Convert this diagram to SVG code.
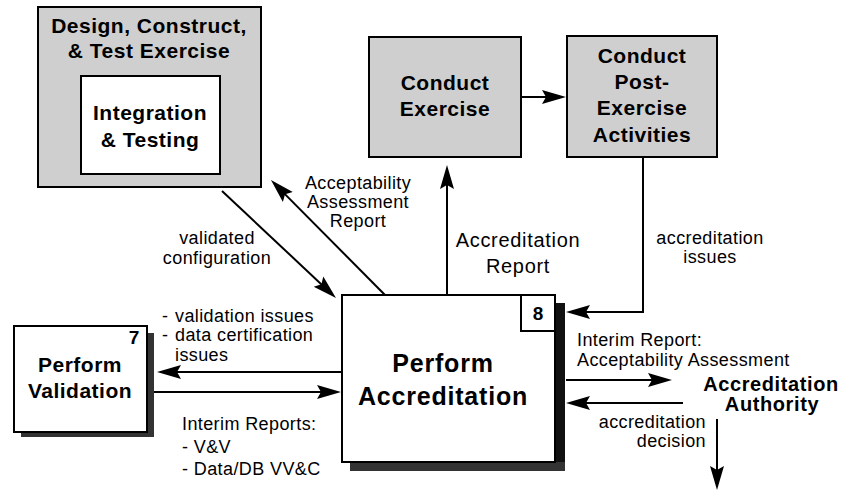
<svg xmlns="http://www.w3.org/2000/svg" width="843" height="491" viewBox="0 0 843 491">
  <style>
    .box { stroke: #000; stroke-width: 2; }
    .gray { fill: #cfcfcf; }
    .white { fill: #fff; }
    .shadow { fill: #333; stroke: none; }
    .shadow-dark { fill: #111; stroke: none; }
    .title { font-family: "Liberation Sans", Arial, sans-serif; font-weight: bold; font-size: 21px; letter-spacing: 0.5px; text-anchor: middle; fill: #000; }
    .big { font-family: "Liberation Sans", Arial, sans-serif; font-weight: bold; font-size: 25px; letter-spacing: 0.8px; text-anchor: middle; fill: #000; }
    .num { font-family: "Liberation Sans", Arial, sans-serif; font-weight: bold; font-size: 19px; text-anchor: middle; fill: #000; }
    .label { font-family: "Liberation Sans", Arial, sans-serif; font-size: 18px; letter-spacing: 0.4px; fill: #000; }
    .mid { text-anchor: middle; }
    .end { text-anchor: end; }
    .flow { fill: none; stroke: #000; stroke-width: 2; marker-end: url(#arrow); }
  </style>
  <defs>
    <marker id="arrow" markerUnits="userSpaceOnUse" markerWidth="24" markerHeight="16" refX="14" refY="8" orient="auto" viewBox="0 0 24 16">
      <path d="M0,1 L24,8 L0,15 L4,8 z" fill="#000"/>
    </marker>
  </defs>

  <!-- Design, Construct, & Test Exercise with nested Integration & Testing -->
  <g id="design-construct-test">
    <rect class="box gray" x="38" y="7" width="223" height="180"/>
    <text class="title" x="149" y="33">Design, Construct,</text>
    <text class="title" x="149" y="58">&amp; Test Exercise</text>
    <g id="integration-testing">
      <rect class="box white" x="81" y="76" width="139" height="98"/>
      <text class="title" x="150" y="120">Integration</text>
      <text class="title" x="150" y="147">&amp; Testing</text>
    </g>
  </g>

  <!-- Conduct Exercise -->
  <g id="conduct-exercise">
    <rect class="box gray" x="369" y="37" width="152" height="120"/>
    <text class="title" x="445" y="90">Conduct</text>
    <text class="title" x="445" y="116">Exercise</text>
  </g>

  <!-- Conduct Post-Exercise Activities -->
  <g id="post-exercise">
    <rect class="box gray" x="567" y="36" width="150" height="121"/>
    <text class="title" x="642" y="63">Conduct</text>
    <text class="title" x="642" y="89">Post-</text>
    <text class="title" x="642" y="115">Exercise</text>
    <text class="title" x="642" y="142">Activities</text>
  </g>

  <!-- 7: Perform Validation -->
  <g id="perform-validation">
    <rect class="shadow" x="147" y="333" width="7" height="104"/>
    <rect class="shadow" x="21" y="432" width="133" height="5"/>
    <rect class="box white" x="14" y="326" width="133" height="106"/>
    <text class="num" x="134" y="344">7</text>
    <text class="title" x="80" y="372">Perform</text>
    <text class="title" x="80" y="398">Validation</text>
  </g>

  <!-- 8: Perform Accreditation -->
  <g id="perform-accreditation">
    <rect class="shadow-dark" x="555" y="303" width="10" height="168"/>
    <rect class="shadow" x="350" y="462" width="215" height="9"/>
    <rect class="box white" x="342" y="295" width="213" height="167"/>
    <rect class="box white" x="521" y="295" width="34" height="36"/>
    <text class="num" x="538" y="320">8</text>
    <text class="big" x="443" y="372">Perform</text>
    <text class="big" x="443" y="405">Accreditation</text>
  </g>

  <!-- Accreditation Authority (external entity, no box) -->
  <g id="accreditation-authority">
    <text class="title" x="771" y="391" style="font-size:20px;letter-spacing:0.6px">Accreditation</text>
    <text class="title" x="772" y="411" style="font-size:20px;letter-spacing:0.6px">Authority</text>
  </g>

  <!-- Connectors -->
  <g id="connectors">
    <line class="flow" x1="521" y1="97" x2="556" y2="97"/>
    <line class="flow" x1="447" y1="295" x2="447" y2="175"/>
    <polyline class="flow" points="643,157 643,312 576,312"/>
    <line class="flow" x1="222" y1="191" x2="328.7" y2="291.2"/>
    <line class="flow" x1="385" y1="295" x2="278" y2="187.1"/>
    <line class="flow" x1="342" y1="372" x2="167" y2="372"/>
    <line class="flow" x1="154" y1="392" x2="331" y2="392"/>
    <line class="flow" x1="566" y1="380" x2="662" y2="380"/>
    <line class="flow" x1="683" y1="403" x2="576" y2="403"/>
    <line class="flow" x1="717" y1="419" x2="717" y2="480"/>
  </g>

  <!-- Connector labels -->
  <g id="labels">
    <text class="label mid" x="358" y="189">Acceptability</text>
    <text class="label mid" x="358" y="208">Assessment</text>
    <text class="label mid" x="358" y="227">Report</text>

    <text class="label mid" x="217" y="244">validated</text>
    <text class="label mid" x="217" y="264">configuration</text>

    <text class="label mid" x="518" y="247" style="font-size:20px;letter-spacing:0.7px">Accreditation</text>
    <text class="label mid" x="518" y="273" style="font-size:20px;letter-spacing:0.7px">Report</text>

    <text class="label mid" x="710" y="244">accreditation</text>
    <text class="label mid" x="710" y="263">issues</text>

    <text class="label" x="162" y="322">-</text>
    <text class="label" x="175" y="322">validation issues</text>
    <text class="label" x="162" y="341">-</text>
    <text class="label" x="175" y="341">data certification</text>
    <text class="label" x="175" y="361">issues</text>

    <text class="label" x="182" y="430">Interim Reports:</text>
    <text class="label" x="182" y="453">- V&amp;V</text>
    <text class="label" x="182" y="475">- Data/DB VV&amp;C</text>

    <text class="label" x="577" y="346">Interim Report:</text>
    <text class="label" x="577" y="366">Acceptability Assessment</text>

    <text class="label end" x="706" y="428">accreditation</text>
    <text class="label end" x="706" y="447">decision</text>
  </g>
</svg>
